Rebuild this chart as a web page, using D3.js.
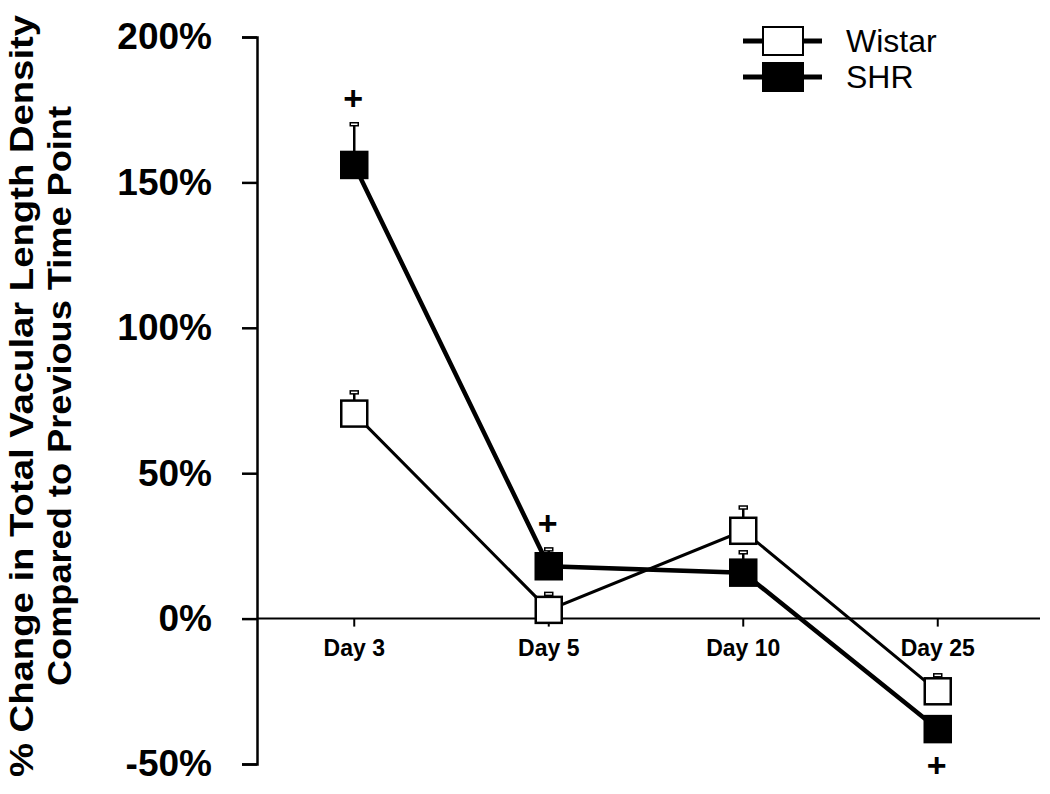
<!DOCTYPE html>
<html>
<head>
<meta charset="utf-8">
<script src="https://cdn.jsdelivr.net/npm/d3@7"></script>
<style>
  html, body { margin: 0; padding: 0; background: #fff; }
  svg { display: block; }
</style>
</head>
<body>
<svg id="chart" width="1050" height="794"></svg>
<script>
// ---- data ----
const categories = ["Day 3", "Day 5", "Day 10", "Day 25"];
const wistarValues = [70.5, 3, 30.2, -25];
const wistarErrors = [7.3, 5.5, 8, 5.5];
const shrValues = [156, 18, 15.8, -38];
const shrErrors = [14, 5.8, 7, 3];
const yTicks = [-50, 0, 50, 100, 150, 200];
const sigCategories = ["Day 3", "Day 5", "Day 25"];
const sigPositions = ["above", "above", "below"];
const yTitleLines = ["% Change in Total Vacular Length Density", "Compared to Previous Time Point"];

// ---- setup ----
const svg = d3.select("#chart");
const x0 = 257, x1 = 1035, yTop = 37, yBot = 764;
const x = d3.scaleBand().domain(categories).range([x0, x1]).padding(0);
const cx = c => x(c) + x.bandwidth() / 2;
const y = d3.scaleLinear().domain([-50, 200]).range([yBot, yTop]);
const FONT = "'Liberation Sans', Arial, sans-serif";

// ---- y axis ----
const yAxis = d3.axisLeft(y).tickValues(yTicks).tickSize(15).tickPadding(30)
  .tickFormat(d => d + "%");
const gy = svg.append("g").attr("transform", `translate(${x0},0)`).call(yAxis);
gy.select(".domain").attr("stroke", "#000").attr("stroke-width", 2.5);
gy.selectAll(".tick line").attr("stroke", "#000").attr("stroke-width", 2.5);
gy.selectAll(".tick text")
  .attr("fill", "#000")
  .style("font-family", FONT)
  .style("font-weight", "bold")
  .style("font-size", "37px");

// ---- x axis at 0 ----
const xAxis = d3.axisBottom(x).tickSize(8).tickPadding(13);
const gx = svg.append("g").attr("transform", `translate(0,${y(0)})`).call(xAxis);
gx.select(".domain").remove();
gx.append("line").attr("x1", x0).attr("x2", 1040).attr("y1", 0).attr("y2", 0)
  .attr("stroke", "#000").attr("stroke-width", 2);
gx.selectAll(".tick line").attr("stroke", "#000").attr("stroke-width", 2);
gx.selectAll(".tick text")
  .attr("fill", "#000")
  .style("font-family", FONT)
  .style("font-weight", "bold")
  .style("font-size", "23px");

// ---- y title ----
const titleG = svg.append("g");
const titleX = [33, 71];
const titleLen = [762, 580];
yTitleLines.forEach((t, i) => {
  titleG.append("text")
    .attr("transform", `translate(${titleX[i]},${396}) rotate(-90)`)
    .attr("text-anchor", "middle")
    .attr("textLength", titleLen[i])
    .attr("lengthAdjust", "spacingAndGlyphs")
    .style("font-family", FONT)
    .style("font-weight", "bold")
    .style("font-size", "34px")
    .attr("fill", "#000")
    .text(t);
});

// ---- series ----
const series = [
  { name: "Wistar", values: wistarValues, errors: wistarErrors, fill: "#fff", lw: 3 },
  { name: "SHR", values: shrValues, errors: shrErrors, fill: "#000", lw: 4.5 }
];
const line = d3.line().x(d => cx(d.c)).y(d => y(d.v));
const ms = 26;

series.forEach(s => {
  const pts = categories.map((c, i) => ({ c, v: s.values[i], e: s.errors[i] }));
  const g = svg.append("g");
  g.append("path").datum(pts).attr("d", line)
    .attr("fill", "none").attr("stroke", "#000").attr("stroke-width", s.lw);
  // error bars
  g.selectAll(".err").data(pts).join("line")
    .attr("x1", d => cx(d.c)).attr("x2", d => cx(d.c))
    .attr("y1", d => y(d.v)).attr("y2", d => y(d.v + d.e))
    .attr("stroke", "#000").attr("stroke-width", 2.5);
  g.selectAll(".cap").data(pts).join("rect")
    .attr("x", d => cx(d.c) - 4).attr("y", d => y(d.v + d.e) - 1.5)
    .attr("width", 8).attr("height", 3)
    .attr("fill", "#fff").attr("stroke", "#000").attr("stroke-width", 1.5);
  // markers
  g.selectAll(".mk").data(pts).join("rect")
    .attr("x", d => cx(d.c) - ms / 2).attr("y", d => y(d.v) - ms / 2)
    .attr("width", ms).attr("height", ms)
    .attr("fill", s.fill).attr("stroke", "#000").attr("stroke-width", 2.5);
});

// ---- significance marks ----
sigCategories.forEach((c, i) => {
  const idx = categories.indexOf(c);
  const v = shrValues[idx], e = shrErrors[idx];
  const py = sigPositions[i] === "above" ? y(v + e) - 26 : y(v) + 36;
  svg.append("text")
    .attr("x", cx(c) - 1).attr("y", py)
    .attr("text-anchor", "middle").attr("dominant-baseline", "central")
    .style("font-family", FONT)
    .style("font-weight", "bold").style("font-size", "34px")
    .attr("fill", "#000").text("+");
});

// ---- legend ----
const legend = svg.append("g");
series.forEach((s, i) => {
  const ly = [41, 77][i];
  legend.append("line").attr("x1", 743).attr("x2", 822).attr("y1", ly).attr("y2", ly)
    .attr("stroke", "#000").attr("stroke-width", 5);
  legend.append("rect").attr("x", 763).attr("y", ly - 14).attr("width", 40).attr("height", 28)
    .attr("fill", s.fill).attr("stroke", "#000").attr("stroke-width", 2);
  legend.append("text").attr("x", 846).attr("y", ly + 11)
    .style("font-family", FONT)
    .style("font-size", "32px").attr("fill", "#000").text(s.name);
});
</script>
</body>
</html>
